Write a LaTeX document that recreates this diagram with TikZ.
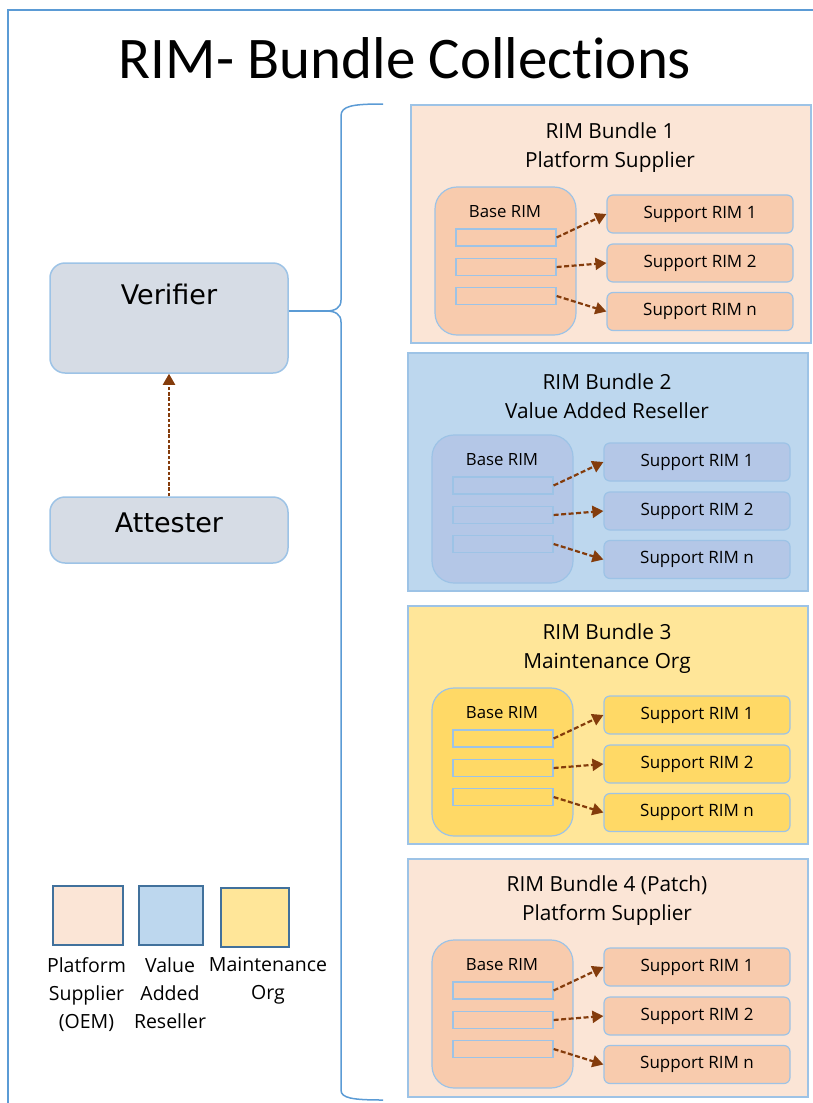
\documentclass[tikz,border=0pt]{standalone}
\usepackage{fontspec}
\setmainfont{Open Sans}
\newfontfamily\titlefont[Ligatures={NoCommon,NoContextual}]{Carlito}
\newfontfamily\actorfont{DejaVu Sans}
\usetikzlibrary{positioning, arrows.meta}

\definecolor{frameblue}{HTML}{5B9BD5}
\definecolor{edgeblue}{HTML}{9DC3E6}
\definecolor{legendedge}{HTML}{41719C}
\definecolor{arrowbrown}{HTML}{843C0C}
\definecolor{greyfill}{HTML}{D6DCE5}
\definecolor{oemlight}{HTML}{FBE5D6}
\definecolor{oemdark}{HTML}{F8CBAD}
\definecolor{varlight}{HTML}{BDD7EE}
\definecolor{vardark}{HTML}{B4C7E7}
\definecolor{orglight}{HTML}{FFE699}
\definecolor{orgdark}{HTML}{FFD966}

\tikzset{
  actor/.style={draw=edgeblue, fill=greyfill, line width=1.5pt, rounded corners=15pt,
    minimum width=238pt, font=\actorfont\fontsize{27}{32}\selectfont},
  bundle/.style={draw=edgeblue, line width=1.5pt, minimum width=400pt, minimum height=238pt},
  bundletitle/.style={align=center, font=\fontsize{20.8}{29}\selectfont},
  baserim/.style={tone, draw=edgeblue, line width=1.2pt, rounded corners=22pt,
    minimum width=141pt, minimum height=148pt},
  baselabel/.style={font=\fontsize{16.8}{20}\selectfont},
  rimslot/.style={tone, draw=edgeblue, line width=1.2pt, inner sep=0pt,
    minimum width=100pt, minimum height=17pt},
  supportrim/.style={tone, draw=edgeblue, line width=1.2pt, rounded corners=6pt,
    minimum width=186pt, minimum height=38pt, font=\fontsize{17}{20}\selectfont},
  rimlink/.style={draw=arrowbrown, line width=2.2pt, dash pattern=on 5pt off 2.5pt,
    -{Triangle[length=11pt,width=12pt]}},
  legendbox/.style={draw=legendedge, line width=2pt, minimum height=59pt},
  legendtext/.style={align=center, anchor=north, inner sep=0pt, font=\fontsize{19.5}{28}\selectfont}
}

\begin{document}
\begin{tikzpicture}[x=1pt, y=-1pt]
  \useasboundingbox (0,0) rectangle (813,1103);
  \draw [frameblue, line width=1.5pt] (813,10) -- (8,10) -- (8,1103);
  \node (heading) [font=\titlefont\fontsize{59}{72}\selectfont] at (405,58) {RIM- Bundle Collections};

  % verifier side
  \node (verifier) [actor, minimum height=110pt] at (169,318) {};
  \node (verifierlabel) [font=\actorfont\fontsize{27}{32}\selectfont] at (169,294) {Verifier};
  \node (attester) [actor, minimum height=66pt, text depth=14pt] at (169,530) {Attester};
  \draw [rimlink, line width=2pt, dash pattern=on 3.5pt off 1.8pt] (attester) -- (verifier);

  % brace
  \coordinate (tip) at (326,311);
  \draw [frameblue, line width=1.5pt] (verifier.east |- tip) -- (tip);
  \draw [frameblue, line width=1.5pt] (383,104) .. controls (352,104) and (341,106) .. (341,116)
    -- (341,300) .. controls (341,308) and (335,311) .. (tip)
    .. controls (335,311) and (341,314) .. (341,322)
    -- (341,1090) .. controls (341,1098) and (352,1100) .. (383,1100);

  % bundle 1
  \begin{scope}[tone/.style={fill=oemdark}]
    \node (b1) [bundle, fill=oemlight] at (611,224) {};
    \node (b1title) [bundletitle] at (610,148) {RIM Bundle 1\\Platform Supplier};
    \node (b1base) [baserim] at (505.5,261) {};
    \node (b1label) [baselabel] at (505,212) {Base RIM};
    \node (b1r1) [rimslot] at (506,237.5) {};
    \node (b1r2) [rimslot] at (506,267) {};
    \node (b1r3) [rimslot] at (506,296) {};
    \node (b1s1) [supportrim] at (700,214) {Support RIM 1};
    \node (b1s2) [supportrim] at (700,263) {Support RIM 2};
    \node (b1s3) [supportrim] at (700,311.5) {Support RIM n};
    \draw [rimlink] (b1r1.east) -- (b1s1.west);
    \draw [rimlink] (b1r2.east) -- (b1s2.west);
    \draw [rimlink] (b1r3.east) -- (b1s3.west);
  \end{scope}

  % bundle 2
  \begin{scope}[shift={(-3,248)}, tone/.style={fill=vardark}]
    \node (b2) [bundle, fill=varlight] at (611,224) {};
    \node (b2title) [bundletitle] at (610,148) {RIM Bundle 2\\Value Added Reseller};
    \node (b2base) [baserim] at (505.5,261) {};
    \node (b2label) [baselabel] at (505,212) {Base RIM};
    \node (b2r1) [rimslot] at (506,237.5) {};
    \node (b2r2) [rimslot] at (506,267) {};
    \node (b2r3) [rimslot] at (506,296) {};
    \node (b2s1) [supportrim] at (700,214) {Support RIM 1};
    \node (b2s2) [supportrim] at (700,263) {Support RIM 2};
    \node (b2s3) [supportrim] at (700,311.5) {Support RIM n};
    \draw [rimlink] (b2r1.east) -- (b2s1.west);
    \draw [rimlink] (b2r2.east) -- (b2s2.west);
    \draw [rimlink] (b2r3.east) -- (b2s3.west);
  \end{scope}

  % bundle 3
  \begin{scope}[shift={(-3,501)}, tone/.style={fill=orgdark}]
    \node (b3) [bundle, fill=orglight] at (611,224) {};
    \node (b3title) [bundletitle] at (610,148) {RIM Bundle 3\\Maintenance Org};
    \node (b3base) [baserim] at (505.5,261) {};
    \node (b3label) [baselabel] at (505,212) {Base RIM};
    \node (b3r1) [rimslot] at (506,237.5) {};
    \node (b3r2) [rimslot] at (506,267) {};
    \node (b3r3) [rimslot] at (506,296) {};
    \node (b3s1) [supportrim] at (700,214) {Support RIM 1};
    \node (b3s2) [supportrim] at (700,263) {Support RIM 2};
    \node (b3s3) [supportrim] at (700,311.5) {Support RIM n};
    \draw [rimlink] (b3r1.east) -- (b3s1.west);
    \draw [rimlink] (b3r2.east) -- (b3s2.west);
    \draw [rimlink] (b3r3.east) -- (b3s3.west);
  \end{scope}

  % bundle 4
  \begin{scope}[shift={(-3,753)}, tone/.style={fill=oemdark}]
    \node (b4) [bundle, fill=oemlight] at (611,225) {};
    \node (b4title) [bundletitle] at (610,148) {RIM Bundle 4 (Patch)\\Platform Supplier};
    \node (b4base) [baserim] at (505.5,261) {};
    \node (b4label) [baselabel] at (505,212) {Base RIM};
    \node (b4r1) [rimslot] at (506,237.5) {};
    \node (b4r2) [rimslot] at (506,267) {};
    \node (b4r3) [rimslot] at (506,296) {};
    \node (b4s1) [supportrim] at (700,214) {Support RIM 1};
    \node (b4s2) [supportrim] at (700,263) {Support RIM 2};
    \node (b4s3) [supportrim] at (700,311.5) {Support RIM n};
    \draw [rimlink] (b4r1.east) -- (b4s1.west);
    \draw [rimlink] (b4r2.east) -- (b4s2.west);
    \draw [rimlink] (b4r3.east) -- (b4s3.west);
  \end{scope}

  % legend
  \node (oem) [legendbox, fill=oemlight, minimum width=70pt] at (88,915.5) {};
  \node (var) [legendbox, fill=varlight, minimum width=64pt] at (171,915.5) {};
  \node (org) [legendbox, fill=orglight, minimum width=68pt] at (255,917) {};
  \node (oemtext) [legendtext] at (86.5,957) {Platform\\Supplier\\(OEM)};
  \node (vartext) [legendtext] at (170,957) {Value\\Added\\Reseller};
  \node (orgtext) [legendtext] at (268,957) {Maintenance\\Org};
\end{tikzpicture}
\end{document}
